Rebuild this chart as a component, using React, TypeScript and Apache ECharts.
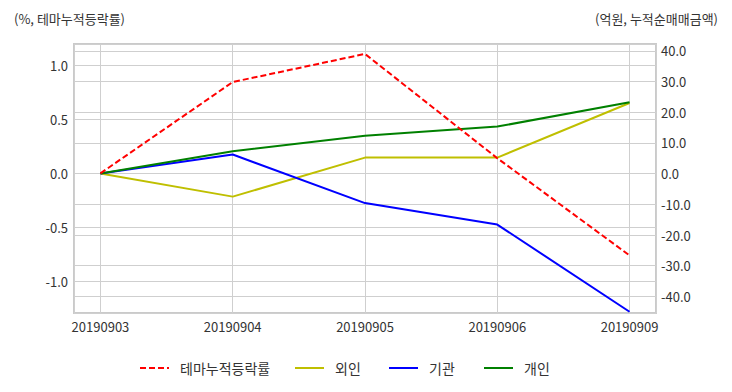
import React, { useEffect, useRef } from "react";
import * as echarts from "echarts";

const categories = ["20190903", "20190904", "20190905", "20190906", "20190909"];
const themeReturn = [0, 0.845, 1.105, 0.14, -0.76];
const foreign = [0, -7.5, 5.2, 5.2, 23.0];
const institution = [0, 6.2, -9.6, -16.6, -45.0];
const individual = [0, 7.3, 12.3, 15.3, 23.2];

const leftTitle = "(%, 테마누적등락률)";
const rightTitle = "(억원, 누적순매매금액)";
const seriesNames = ["테마누적등락률", "외인", "기관", "개인"];

const FONT = "'Noto Sans CJK KR', 'Noto Sans', sans-serif";

export default function App() {
  const ref = useRef<HTMLDivElement>(null);

  useEffect(() => {
    if (!ref.current) return;
    const chart = echarts.init(ref.current, null, { renderer: "svg" });
    const toPts = (arr: number[]) => arr.map((v, i) => [i, v]);
    const legendLefts = [139, 294, 388, 483];
    const colors = ["#ff0000", "#bfbf00", "#0000ff", "#008000"];
    const allData = [themeReturn, foreign, institution, individual];
    const gridColor = "#cfcfcf";

    chart.setOption({
      animation: false,
      backgroundColor: "#ffffff",
      textStyle: { fontFamily: FONT },
      title: [
        {
          text: leftTitle,
          left: 9,
          top: 7,
          textStyle: { fontSize: 13, fontWeight: "normal", color: "#333", fontFamily: FONT },
        },
        {
          text: rightTitle,
          right: 9,
          top: 7,
          textStyle: { fontSize: 13, fontWeight: "normal", color: "#333", fontFamily: FONT },
        },
      ],
      legend: seriesNames.map((n, i) => ({
        data: [n],
        left: legendLefts[i],
        top: 361,
        padding: 0,
        itemWidth: 29,
        itemHeight: 14,
        itemStyle: { opacity: 0 },
        textStyle: { fontSize: 14, color: "#333", fontFamily: FONT, padding: [0, 0, 0, 6] },
      })),
      grid: {
        left: 74,
        top: 44,
        right: 76,
        bottom: 79,
        show: true,
        borderColor: "#cacaca",
        borderWidth: 2,
        containLabel: false,
      },
      xAxis: {
        type: "value",
        min: -0.2,
        max: 4.2,
        splitNumber: 4,
        axisLine: { show: false },
        axisTick: { show: false },
        splitLine: { show: true, lineStyle: { color: gridColor, width: 1 } },
        axisLabel: {
          margin: 7,
          fontSize: 13,
          color: "#333",
          fontFamily: FONT,
          formatter: (v: number) => {
            const r = Math.round(v);
            if (Math.abs(v - r) < 1e-6 && r >= 0 && r < categories.length) return categories[r];
            return "";
          },
        },
      },
      yAxis: [
        {
          type: "value",
          position: "left",
          min: -1.293,
          max: 1.197,
          splitNumber: 5,
          axisLine: { show: false },
          axisTick: { show: false },
          splitLine: { show: true, lineStyle: { color: gridColor, width: 1 } },
          axisLabel: {
            margin: 6,
            fontSize: 13,
            color: "#333",
            fontFamily: FONT,
            formatter: (v: number) =>
              Math.abs(v * 2 - Math.round(v * 2)) < 1e-6 ? v.toFixed(1) : "",
          },
        },
        {
          type: "value",
          position: "right",
          min: -45.4,
          max: 42.2,
          splitNumber: 9,
          axisLine: { show: false },
          axisTick: { show: false },
          splitLine: { show: true, lineStyle: { color: gridColor, width: 1 } },
          axisLabel: {
            margin: 5,
            fontSize: 13,
            color: "#333",
            fontFamily: FONT,
            formatter: (v: number) =>
              Math.abs(v / 10 - Math.round(v / 10)) < 1e-6 ? v.toFixed(1) : "",
          },
        },
      ],
      series: seriesNames.map((n, i) => ({
        name: n,
        type: "line",
        yAxisIndex: i === 0 ? 0 : 1,
        data: toPts(allData[i]),
        symbol: "none",
        color: colors[i],
        lineStyle: {
          color: colors[i],
          width: 2,
          type: i === 0 ? [6, 3] : "solid",
        },
        z: i === 0 ? 6 : 5,
      })),
    });

    return () => chart.dispose();
  }, []);

  return (
    <div
      ref={ref}
      style={{ position: "fixed", left: 0, top: 0, width: 732, height: 392 }}
    />
  );
}
